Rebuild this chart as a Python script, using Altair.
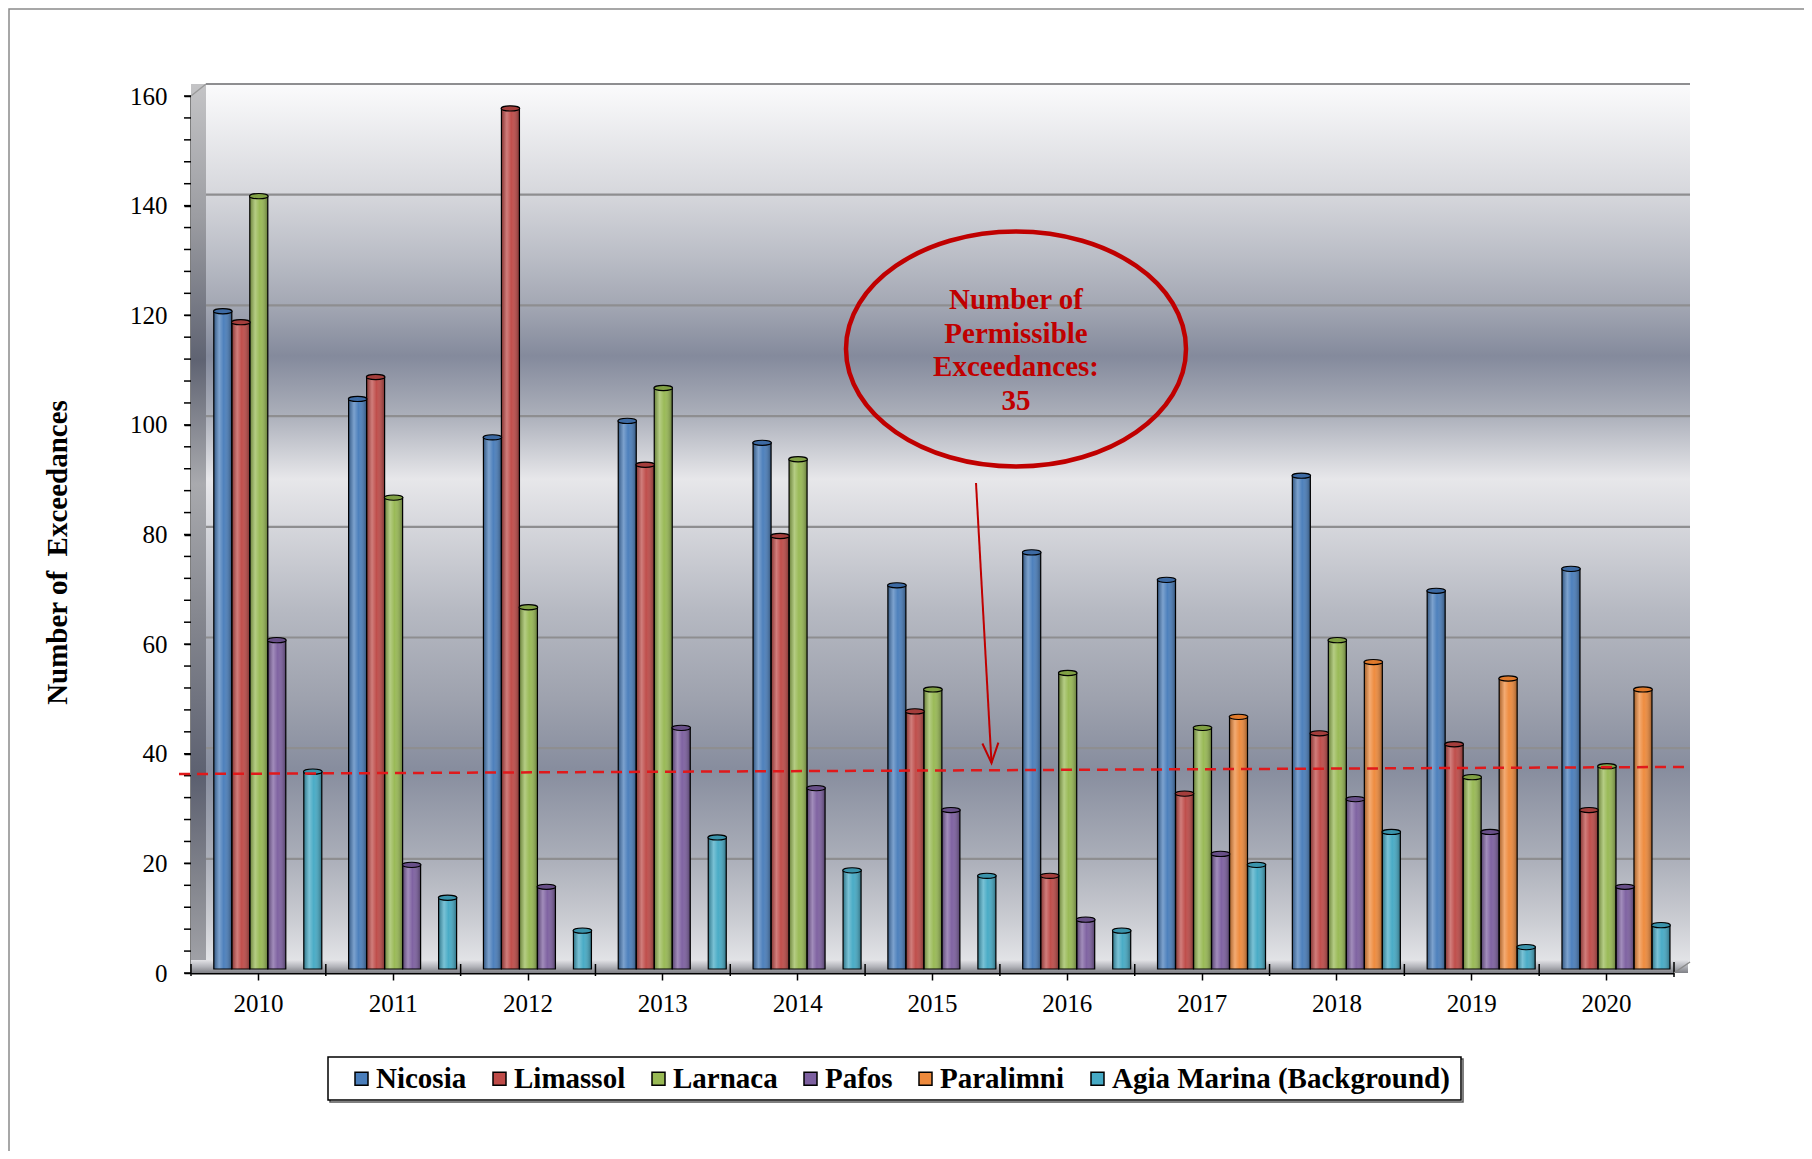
import altair as alt
import pandas as pd

# ---------------- data ----------------
years = ["2010", "2011", "2012", "2013", "2014", "2015", "2016", "2017", "2018", "2019", "2020"]
series = ["Nicosia", "Limassol", "Larnaca", "Pafos", "Paralimni", "Agia Marina (Background)"]
nicosia = [120, 104, 97, 100, 96, 70, 76, 71, 90, 69, 73]
limassol = [118, 108, 157, 92, 79, 47, 17, 32, 43, 41, 29]
larnaca = [141, 86, 66, 106, 93, 51, 54, 44, 60, 35, 37]
pafos = [60, 19, 15, 44, 33, 29, 9, 21, 31, 25, 15]
paralimni = [None, None, None, None, None, None, None, 46, 56, 53, 51]
agia_marina = [36, 13, 7, 24, 18, 17, 7, 19, 25, 4, 8]
bar_colors = ["#4a7ebb", "#be4b48", "#98b954", "#7d60a0", "#ee8a3c", "#46aac5"]
cap_colors = ["#3d6aa3", "#a43e3c", "#80a044", "#684f88", "#e07a2c", "#3a93ab"]
grid_values = [20, 40, 60, 80, 100, 120, 140, 160]
y_label_values = [0, 20, 40, 60, 80, 100, 120, 140, 160]
y_minor_values = list(range(0, 161, 4))
threshold_ends = [36.3, 37.6]
annotation = ["Number of", "Permissible", "Exceedances:", "35"]

values_by_series = [nicosia, limassol, larnaca, pafos, paralimni, agia_marina]
rows = []
for s, vals in zip(series, values_by_series):
    for y, v in zip(years, vals):
        if v is not None:
            rows.append({"year": y, "series": s, "value": v})
df = pd.DataFrame(rows)
grid_df = pd.DataFrame({"g": grid_values})
minor_df = pd.DataFrame({"value": y_minor_values})
year_df = pd.DataFrame({"year": years})
one = pd.DataFrame({"k": [0]})

W, H = 1483, 877
FONT = "Liberation Serif"
YTITLE = "Number of\u00a0 Exceedances"


def vgrad(stops):
    return {"gradient": "linear", "x1": 0, "y1": 0, "x2": 0, "y2": 1,
            "stops": [{"offset": o, "color": c} for o, c in stops]}


def hgrad(stops):
    return {"gradient": "linear", "x1": 0, "y1": 0, "x2": 1, "y2": 0,
            "stops": [{"offset": o, "color": c} for o, c in stops]}


wall_fill = vgrad([(0, "#fbfbfc"), (0.125, "#d6d7dc"), (0.2, "#b9bcc5"), (0.25, "#a4a8b4"),
                   (0.31, "#848a9c"), (0.375, "#aaaeb9"), (0.45, "#e7e7ea"), (0.5, "#d7d8dd"),
                   (0.6, "#b6b9c2"), (0.7, "#9ea2ae"), (0.78, "#878d9e"), (0.875, "#a8acb7"),
                   (0.95, "#c9cbd1"), (1, "#e3e4e7")])
side_fill = vgrad([(0, "#c4c4c6"), (0.15, "#9c9da2"), (0.31, "#5f6372"), (0.45, "#a9aaae"),
                   (0.6, "#85878f"), (0.78, "#5c6070"), (0.9, "#84868e"), (1, "#a4a5aa")])
floor_fill = vgrad([(0, "#e2e2e6"), (0.5, "#b4b5bb"), (1, "#7f8086")])
cyl_fill = hgrad([(0, "rgba(0,0,0,0.30)"), (0.3, "rgba(255,255,255,0.28)"),
                  (0.55, "rgba(255,255,255,0.02)"), (1, "rgba(0,0,0,0.35)")])

x_scale = alt.Scale(domain=years, paddingInner=0, paddingOuter=0)
y_scale = alt.Scale(domain=[0, 160], nice=False, zero=True)
off_scale = alt.Scale(domain=series, paddingInner=0, paddingOuter=0.745, align=0.85)

# ---------------- background (3D walls) ----------------
border = alt.Chart(one).mark_rect(fill=None, stroke="#8a8a8a", strokeWidth=1.5).encode(
    x=alt.value(-182), x2=alt.value(1750), y=alt.value(-87), y2=alt.value(1150))
wall = alt.Chart(one).mark_rect(fill=wall_fill).encode(
    x=alt.value(15), x2=alt.value(1499), y=alt.value(-12), y2=alt.value(866))
side = alt.Chart(one).mark_rect(fill=side_fill).encode(
    x=alt.value(0), x2=alt.value(15), y=alt.value(-12), y2=alt.value(H))
floor = alt.Chart(one).mark_rect(fill=floor_fill).encode(
    x=alt.value(0), x2=alt.value(1497), y=alt.value(864), y2=alt.value(H))
corner = alt.Chart(one).mark_rule(color="#9a9a9a", strokeWidth=1.5).encode(
    x=alt.value(0), x2=alt.value(15), y=alt.value(0), y2=alt.value(-12))
grid = alt.Chart(grid_df).mark_rule(color="#8e8e90", strokeWidth=2.2).encode(
    y=alt.Y("g:Q", scale=alt.Scale(domain=[-0.614, 157.83], nice=False, zero=False), axis=None),
    x=alt.value(15), x2=alt.value(1499))
background = alt.layer(border, wall, side, floor, corner, grid)

# ---------------- bars ----------------
bars = alt.Chart(df).mark_bar(yOffset=-4, y2Offset=-4).encode(
    x=alt.X("year:N", scale=x_scale, sort=years,
            axis=alt.Axis(title=None, labelFont=FONT, labelFontSize=25, labelColor="black",
                          labelPadding=11, tickSize=7, tickColor="black", tickWidth=1.5,
                          domainColor="black", domainWidth=2, labelAngle=0)),
    xOffset=alt.XOffset("series:N", scale=off_scale, sort=series),
    y=alt.Y("value:Q", scale=y_scale, title=YTITLE,
            axis=alt.Axis(orient="left", values=y_label_values, labelOverlap=False,
                          title=YTITLE, titleFont=FONT, titleFontSize=29,
                          titleFontWeight="bold", titleColor="black", titleX=-134, titleY=456,
                          titleAngle=270, titleAlign="center", titleBaseline="middle",
                          labelFont=FONT, labelFontSize=25, labelColor="black", labelPadding=17,
                          tickSize=7, tickColor="black", tickWidth=1.5, domainColor="black",
                          domainWidth=2, grid=False)),
    color=alt.Color("series:N", scale=alt.Scale(domain=series, range=bar_colors), sort=series,
                    legend=alt.Legend(title=None, orient="none", legendX=156, legendY=968,
                                      direction="horizontal", symbolType="square", symbolSize=169,
                                      symbolStrokeColor="black", symbolStrokeWidth=1.5,
                                      labelFont=FONT, labelFontSize=29, labelFontWeight="bold",
                                      labelColor="black", columnPadding=18, labelOffset=0,
                                      padding=0, labelLimit=500)),
)

shade = alt.Chart(df).mark_bar(yOffset=-4, y2Offset=-4, fill=cyl_fill, stroke="black",
                               strokeWidth=1.2).encode(
    x=alt.X("year:N", scale=x_scale, sort=years),
    xOffset=alt.XOffset("series:N", scale=off_scale, sort=series),
    y=alt.Y("value:Q", scale=y_scale, title=YTITLE),
)

cap_shape = "M -1 0 A 1 0.28 0 1 1 1 0 A 1 0.28 0 1 1 -1 0 Z"
caps = alt.Chart(df).mark_point(shape=cap_shape, size=346, filled=True, opacity=1,
                                stroke="black", strokeWidth=1.1, yOffset=-4).encode(
    x=alt.X("year:N", scale=x_scale, sort=years),
    xOffset=alt.XOffset("series:N", scale=off_scale, sort=series),
    y=alt.Y("value:Q", scale=y_scale, title=YTITLE),
    fill=alt.Fill("series:N", scale=alt.Scale(domain=series, range=cap_colors), legend=None),
)

minor_ticks = alt.Chart(minor_df).mark_rule(color="black", strokeWidth=1.5).encode(
    y=alt.Y("value:Q", scale=y_scale, title=YTITLE),
    x=alt.value(-7), x2=alt.value(0))

btick = alt.Chart(year_df).mark_rule(color="black", strokeWidth=1.5).encode(
    x=alt.X("year:N", scale=x_scale, sort=years, bandPosition=0),
    y=alt.value(868), y2=alt.value(H + 3))
end_tick = alt.Chart(one).mark_rule(color="black", strokeWidth=1.5).encode(
    x=alt.value(W), y=alt.value(866), y2=alt.value(H + 4))
end_diag = alt.Chart(one).mark_rule(color="#8a8a8a", strokeWidth=1.5).encode(
    x=alt.value(W), x2=alt.value(1499), y=alt.value(H), y2=alt.value(866))

# ---------------- threshold + annotation ----------------
thresh = alt.Chart(one).mark_rule(color="#e0191b", strokeWidth=2.5, strokeDash=[11, 7]).encode(
    x=alt.value(-12), x2=alt.value(1499),
    y=alt.YDatum(threshold_ends[0], scale=y_scale),
    y2=alt.Y2Datum(threshold_ends[1]))
arrow = alt.Chart(one).mark_rule(color="#c00000", strokeWidth=2).encode(
    x=alt.value(785), x2=alt.value(800.5), y=alt.value(387), y2=alt.value(667))
arrow_head = alt.Chart(one).mark_point(shape="M -0.4 -1 L 0 0 L 0.4 -1", size=1600, filled=False,
                                       stroke="#c00000", strokeWidth=2, angle=356.8,
                                       opacity=1).encode(
    x=alt.value(800.5), y=alt.value(667))
ell_shape = "M -1 0 A 1 0.691 0 1 1 1 0 A 1 0.691 0 1 1 -1 0 Z"
ellipse = alt.Chart(one).mark_point(shape=ell_shape, size=115600, filled=False, stroke="#c00000",
                                    strokeWidth=4.5, opacity=1).encode(
    x=alt.value(825), y=alt.value(253))
ann_text = alt.Chart(one).mark_text(text=annotation, font=FONT, fontSize=29, fontWeight="bold",
                                    color="#c00000", align="center", baseline="middle",
                                    lineHeight=33.5).encode(
    x=alt.value(825), y=alt.value(204))

# ---------------- legend box ----------------
box_shadow = alt.Chart(one).mark_rect(fill=None, stroke="#555555", strokeWidth=1.5).encode(
    x=alt.value(139), x2=alt.value(1272), y=alt.value(963), y2=alt.value(1006))
box = alt.Chart(one).mark_rect(fill="white", stroke="black", strokeWidth=1.5).encode(
    x=alt.value(137), x2=alt.value(1270), y=alt.value(961), y2=alt.value(1004))

front = alt.layer(box_shadow, box, bars, shade, caps, minor_ticks, btick, end_tick, end_diag,
                  thresh, arrow, arrow_head, ellipse, ann_text).resolve_scale(fill="independent")

chart = alt.layer(background, front).resolve_scale(y="independent").properties(
    width=W, height=H, autosize="none",
    padding={"left": 183, "top": 88, "right": 130, "bottom": 178},
).configure_view(stroke=None).configure(background="white")

chart.save("out.html", embed_options={"renderer": "svg", "actions": False})
